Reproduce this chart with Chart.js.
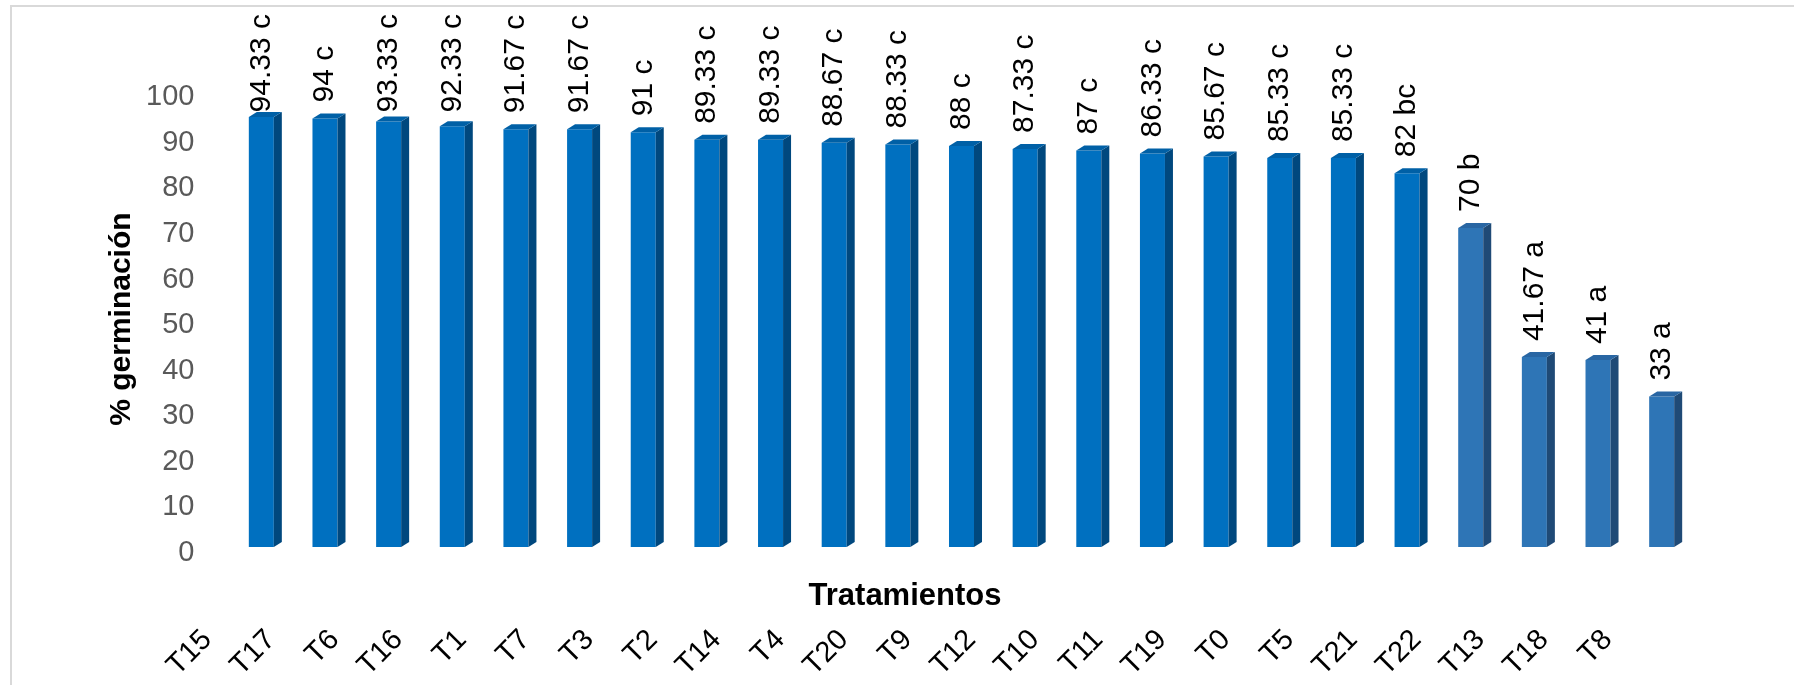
<!DOCTYPE html>
<html>
<head>
<meta charset="utf-8">
<script src="https://cdn.jsdelivr.net/npm/chart.js@4.4.1/dist/chart.umd.min.js"></script>
<style>
  html, body { margin: 0; padding: 0; background: #fff; overflow: hidden; }
  #wrap { position: relative; width: 1794px; height: 685px; }
  #frame { position: absolute; left: 10px; top: 5px; width: 1800px; height: 700px;
           border-left: 2px solid #d9d9d9; border-top: 2px solid #d9d9d9; }
  canvas { position: absolute; left: 0; top: 0; }
</style>
</head>
<body>
<div id="wrap">
  <div id="frame"></div>
  <canvas id="c" width="1794" height="685"></canvas>
</div>
<script>
// Treatments, ordered by germination
const categories = ['T15','T17','T6','T16','T1','T7','T3','T2','T14','T4','T20','T9',
                    'T12','T10','T11','T19','T0','T5','T21','T22','T13','T18','T8'];
// Mean germination (%)
const germination = [94.33, 94, 93.33, 92.33, 91.67, 91.67, 91, 89.33, 89.33, 88.67, 88.33, 88,
                     87.33, 87, 86.33, 85.67, 85.33, 85.33, 82, 70, 41.67, 41, 33];
// Significance groups
const letters = ['c','c','c','c','c','c','c','c','c','c','c','c',
                 'c','c','c','c','c','c','bc','b','a','a','a'];
// Y axis tick values
const yTickValues = [0, 10, 20, 30, 40, 50, 60, 70, 80, 90, 100];

const FONT = "'Liberation Sans', Arial, sans-serif";
const DEPTH_X = 8, DEPTH_Y = 5;

// Bars in the "c" group use the deep blue; the rest a softer blue
const inC = i => letters[i].includes('c');
const palette = {
  c:     { front: '#0070C0', side: '#00487E', top: '#0060A6' },
  other: { front: '#2E75B6', side: '#1F4A76', top: '#2966A3' }
};
const colorsFor = i => inC(i) ? palette.c : palette.other;

// Side and top faces give each bar a box look
const boxFaces = {
  id: 'boxFaces',
  afterDatasetsDraw(chart) {
    const ctx = chart.ctx;
    const meta = chart.getDatasetMeta(0);
    meta.data.forEach((el, i) => {
      const { x, y, base, width } = el.getProps(['x', 'y', 'base', 'width'], true);
      const l = x - width / 2, r = x + width / 2;
      const col = colorsFor(i);
      ctx.save();
      ctx.fillStyle = col.side;
      ctx.beginPath();
      ctx.moveTo(r, y);
      ctx.lineTo(r + DEPTH_X, y - DEPTH_Y);
      ctx.lineTo(r + DEPTH_X, base - DEPTH_Y);
      ctx.lineTo(r, base);
      ctx.closePath();
      ctx.fill();
      ctx.fillStyle = col.top;
      ctx.beginPath();
      ctx.moveTo(l, y);
      ctx.lineTo(l + DEPTH_X, y - DEPTH_Y);
      ctx.lineTo(r + DEPTH_X, y - DEPTH_Y);
      ctx.lineTo(r, y);
      ctx.closePath();
      ctx.fill();
      ctx.restore();
    });
  }
};

// Value + group letter written vertically above each bar
const valueLabels = {
  id: 'valueLabels',
  afterDatasetsDraw(chart) {
    const ctx = chart.ctx;
    const meta = chart.getDatasetMeta(0);
    ctx.save();
    ctx.font = '30px ' + FONT;
    ctx.fillStyle = '#000';
    ctx.textAlign = 'left';
    ctx.textBaseline = 'middle';
    meta.data.forEach((el, i) => {
      const text = germination[i] + ' ' + letters[i];
      const w = ctx.measureText(text).width;
      let start = el.y - DEPTH_Y - 11;
      if (start - w < 14) start = 14 + w;
      ctx.save();
      ctx.translate(el.x, start);
      ctx.rotate(-Math.PI / 2);
      ctx.fillText(text, 0, 0);
      ctx.restore();
    });
    ctx.restore();
  }
};

// Horizontal axis caption, centred on the chart frame
const xCaption = {
  id: 'xCaption',
  afterDraw(chart) {
    const ctx = chart.ctx;
    ctx.save();
    ctx.font = 'bold 31px ' + FONT;
    ctx.fillStyle = '#000';
    ctx.textAlign = 'center';
    ctx.textBaseline = 'middle';
    ctx.fillText('Tratamientos', chart.width / 2 + 8, chart.chartArea.bottom + 49);
    ctx.restore();
  }
};

new Chart(document.getElementById('c'), {
  type: 'bar',
  data: {
    labels: categories,
    datasets: [{
      data: germination,
      backgroundColor: ctx => colorsFor(ctx.dataIndex).front,
      borderWidth: 0,
      barPercentage: 0.393,
      categoryPercentage: 1.0
    }]
  },
  options: {
    responsive: false,
    animation: false,
    devicePixelRatio: 1,
    layout: { padding: { left: 0, right: 100.5, top: 91.2, bottom: 0 } },
    plugins: { legend: { display: false }, tooltip: { enabled: false } },
    scales: {
      x: {
        grid: { display: false, drawTicks: false },
        border: { display: false },
        ticks: {
          autoSkip: false,
          minRotation: 45,
          maxRotation: 45,
          padding: 76,
          labelOffset: -54,
          color: '#000',
          font: { family: FONT, size: 29 }
        },
        afterFit: s => { s.height = 138; }
      },
      y: {
        min: 0,
        max: 100,
        grid: { display: false, drawTicks: false },
        border: { display: false },
        afterBuildTicks: s => { s.ticks = yTickValues.map(v => ({ value: v })); },
        ticks: {
          padding: 35,
          labelOffset: 6,
          color: '#595959',
          font: { family: FONT, size: 29 }
        },
        title: {
          display: true,
          text: '% germinación',
          color: '#000',
          font: { family: FONT, size: 30, weight: 'bold' },
          padding: { top: 104, bottom: 0 }
        },
        afterFit: s => { s.width = 229.5; }
      }
    }
  },
  plugins: [boxFaces, valueLabels, xCaption]
});
</script>
</body>
</html>
